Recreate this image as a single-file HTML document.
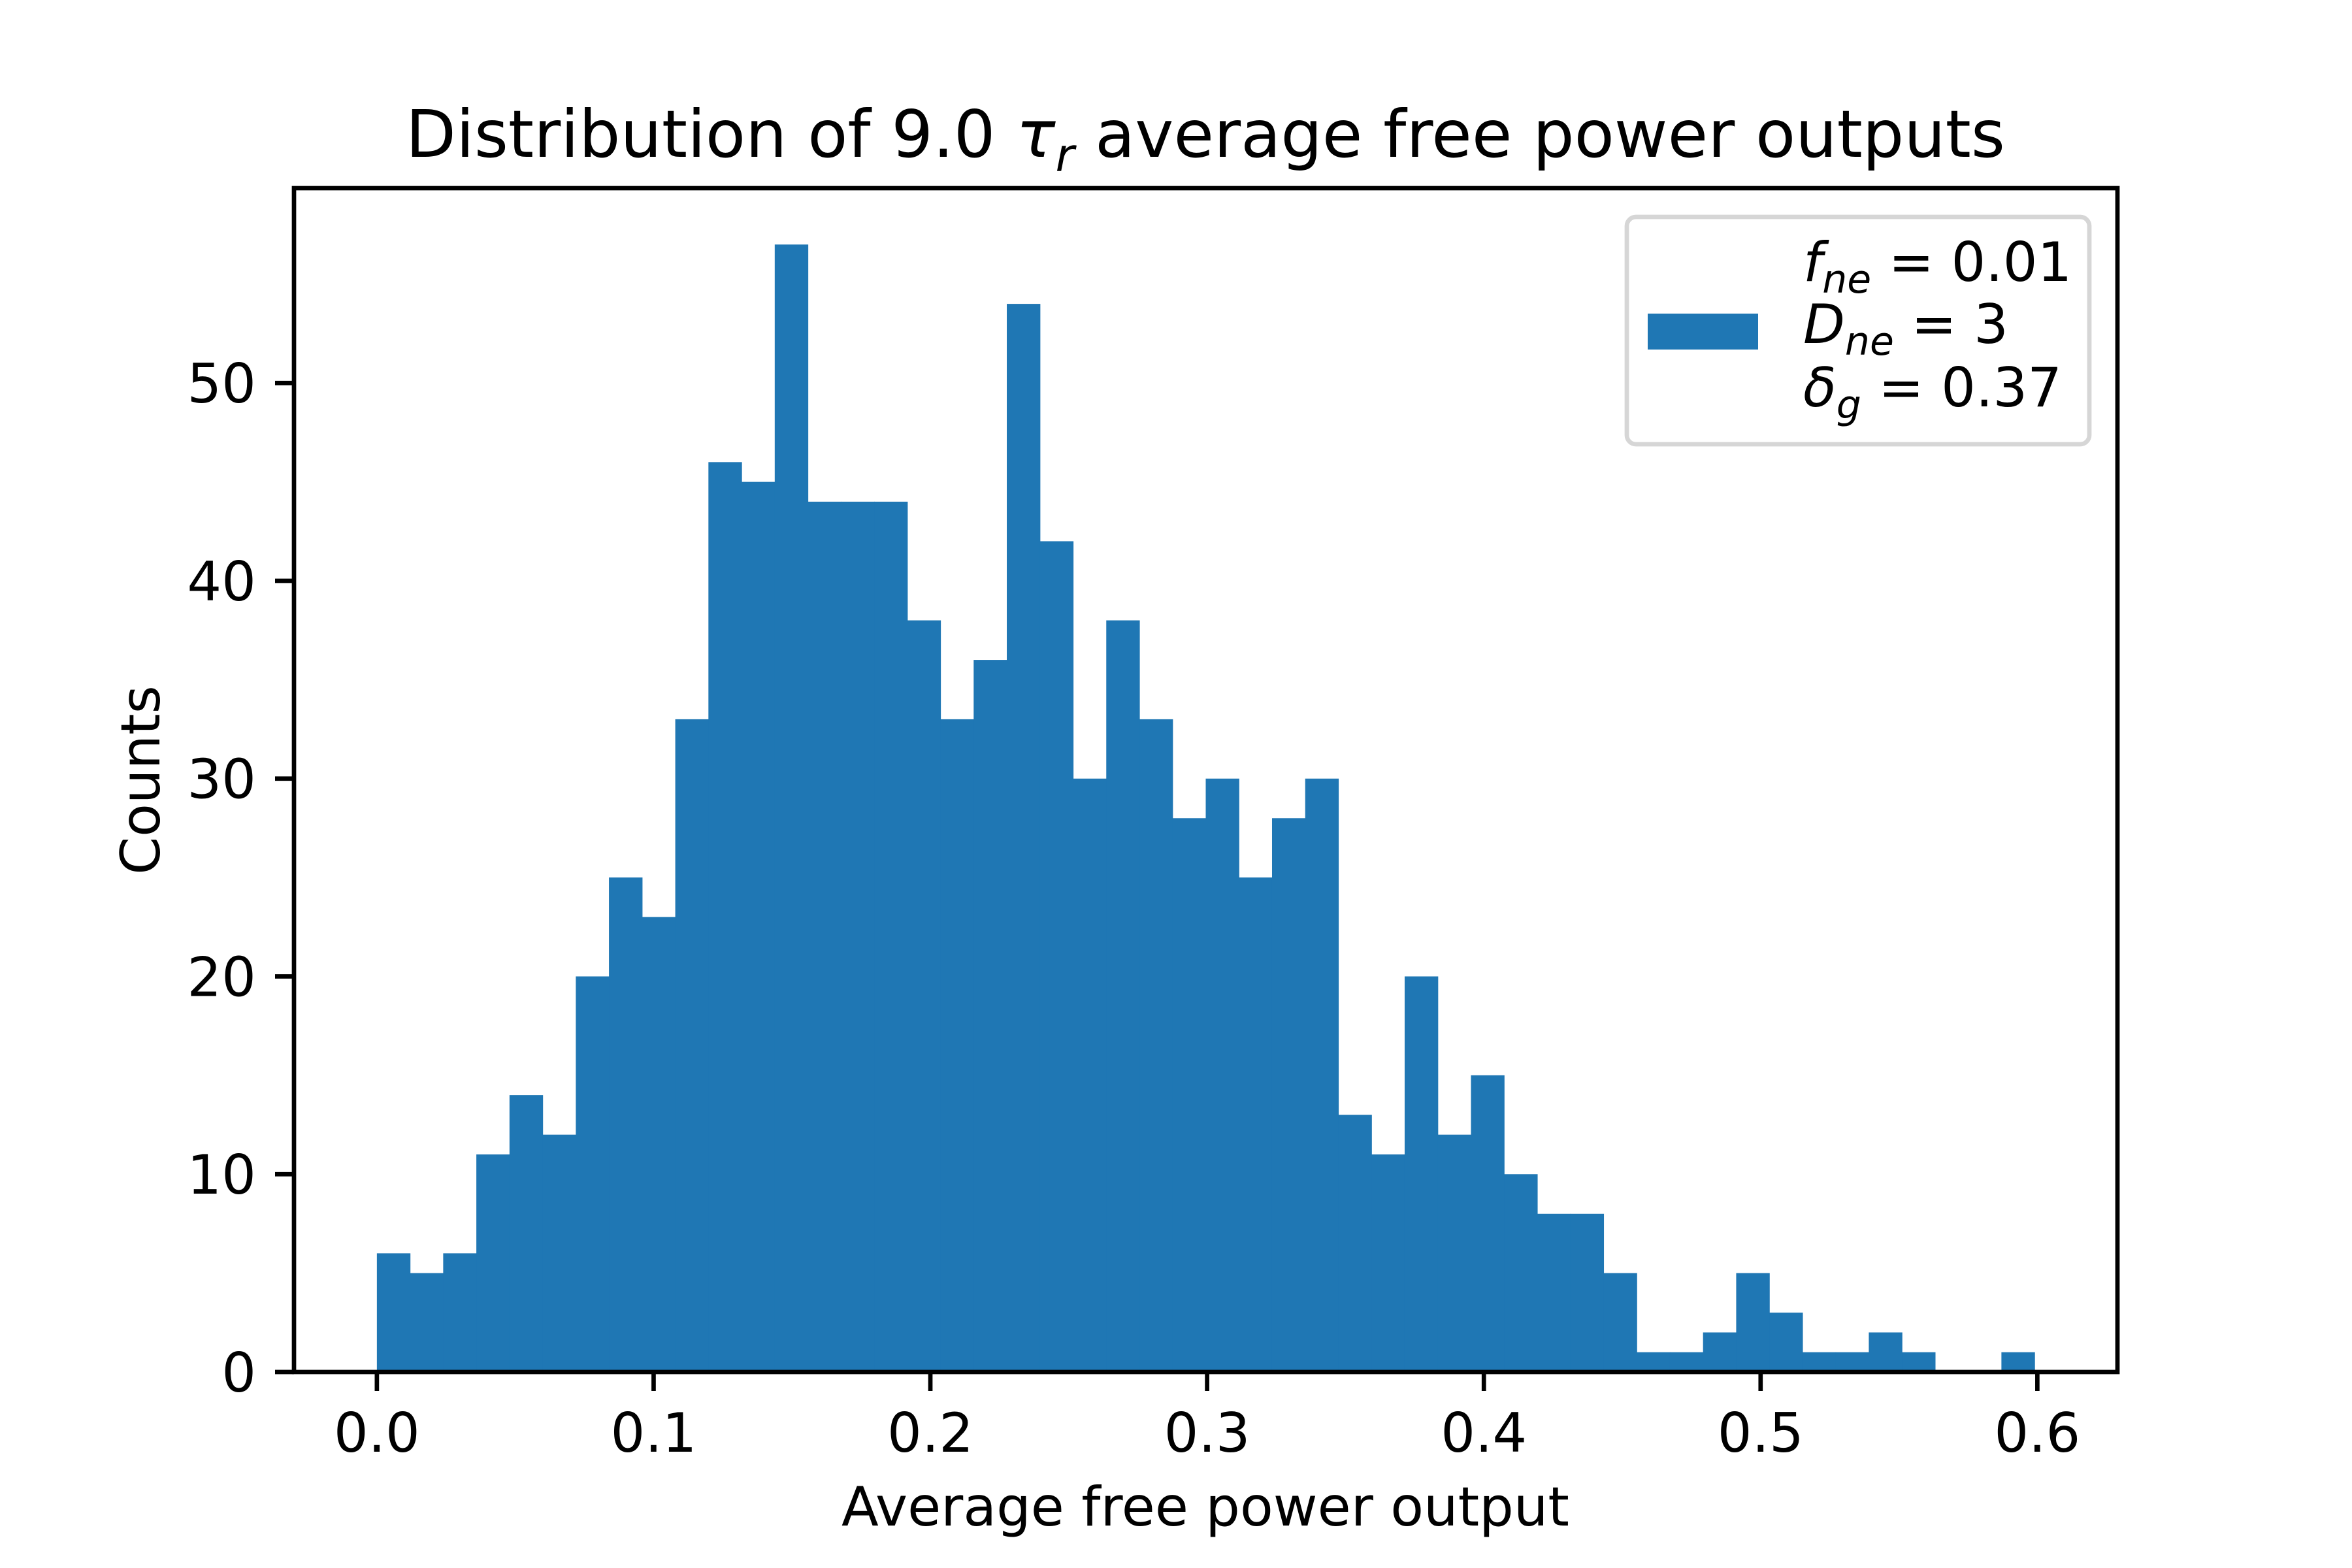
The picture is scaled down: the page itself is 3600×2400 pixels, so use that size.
<!DOCTYPE html>
<html><head><meta charset="utf-8"><style>
html,body{margin:0;padding:0;background:#fff;}
svg{display:block;font-family:"DejaVu Sans","Liberation Sans",sans-serif;}
</style></head><body>
<svg id="chart" width="3600" height="2400" viewBox="0 0 3600 2400" xmlns="http://www.w3.org/2000/svg">
<rect width="3600" height="2400" fill="#fff"/>
<g id="bars"></g>
<g id="axes"></g>
<text x="1845" y="240" font-size="100" text-anchor="middle">Distribution of 9.0 <tspan font-style="italic">τ</tspan><tspan font-style="italic" font-size="70" dy="22">r</tspan><tspan dy="-22"> average free power outputs</tspan></text>
<text x="1845" y="2335" font-size="83" text-anchor="middle">Average free power output</text>
<text x="0" y="0" font-size="83" text-anchor="middle" transform="translate(244,1194) rotate(-90)">Counts</text>
<g>
<rect x="2490" y="332" width="708" height="348" rx="14" fill="#fff" stroke="#d6d6d6" stroke-width="6.7"/>
<rect x="2522" y="480" width="169" height="55" fill="#1f77b4"/>
<text x="2760" y="430" font-size="83"><tspan font-style="italic">f</tspan><tspan font-style="italic" font-size="60" dy="18">ne</tspan><tspan dy="-18"> = 0.01</tspan></text>
<text x="2760" y="525" font-size="83"><tspan font-style="italic">D</tspan><tspan font-style="italic" font-size="60" dy="18">ne</tspan><tspan dy="-18"> = 3</tspan></text>
<text x="2760" y="622" font-size="83"><tspan font-style="italic">δ</tspan><tspan font-style="italic" font-size="60" dy="18">g</tspan><tspan dy="-18"> = 0.37</tspan></text>
</g>
</svg>
<script>
const counts = [6,5,6,11,14,12,20,25,23,33,46,45,57,44,44,44,38,33,36,54,42,30,38,33,28,30,25,28,30,13,11,20,12,15,10,8,8,5,1,1,2,5,3,1,1,2,1,0,0,1];
const binStart = 0.0;
const binEnd = 0.599;
const xTicks = [0.0,0.1,0.2,0.3,0.4,0.5,0.6];
const xTickLabels = ["0.0","0.1","0.2","0.3","0.4","0.5","0.6"];
const yTicks = [0,10,20,30,40,50];
const yTickLabels = ["0","10","20","30","40","50"];

const NS = "http://www.w3.org/2000/svg";
const L = 450, R = 3241, T = 288, B = 2100;
const span = binEnd - binStart;
const xmin = binStart - 0.05*span, xmax = binEnd + 0.05*span;
const ymax = Math.max(...counts) * 1.05;
function sx(v){ return L + (v - xmin)/(xmax - xmin)*(R - L); }
function sy(v){ return B - v/ymax*(B - T); }

const barsG = document.getElementById('bars');
const w = span / counts.length;
counts.forEach((c, i) => {
  if (c <= 0) return;
  const r = document.createElementNS(NS, 'rect');
  const x0 = sx(binStart + i*w), x1 = sx(binStart + (i+1)*w);
  r.setAttribute('x', x0);
  r.setAttribute('width', x1 - x0 + 0.6);
  r.setAttribute('y', sy(c));
  r.setAttribute('height', B - sy(c));
  r.setAttribute('fill', '#1f77b4');
  
  
  barsG.appendChild(r);
});

const ax = document.getElementById('axes');
const frame = document.createElementNS(NS, 'rect');
frame.setAttribute('x', L); frame.setAttribute('y', T);
frame.setAttribute('width', R - L); frame.setAttribute('height', B - T);
frame.setAttribute('fill', 'none'); frame.setAttribute('stroke', '#000');
frame.setAttribute('stroke-width', '6.7');


ax.appendChild(frame);

xTicks.forEach((v, i) => {
  const x = sx(v);
  const t = document.createElementNS(NS, 'line');
  t.setAttribute('x1', x); t.setAttribute('x2', x);
  t.setAttribute('y1', B); t.setAttribute('y2', B + 29);
  t.setAttribute('stroke', '#000'); t.setAttribute('stroke-width', '6.7');
  
  
  ax.appendChild(t);
  const tx = document.createElementNS(NS, 'text');
  tx.setAttribute('x', x); tx.setAttribute('y', 2222);
  tx.setAttribute('font-size', '83'); tx.setAttribute('text-anchor', 'middle');
  tx.textContent = xTickLabels[i];
  
  
  ax.appendChild(tx);
});

yTicks.forEach((v, i) => {
  const y = sy(v);
  const t = document.createElementNS(NS, 'line');
  t.setAttribute('x1', L - 29); t.setAttribute('x2', L);
  t.setAttribute('y1', y); t.setAttribute('y2', y);
  t.setAttribute('stroke', '#000'); t.setAttribute('stroke-width', '6.7');
  
  
  ax.appendChild(t);
  const tx = document.createElementNS(NS, 'text');
  tx.setAttribute('x', 392); tx.setAttribute('y', y + 30);
  tx.setAttribute('font-size', '83'); tx.setAttribute('text-anchor', 'end');
  tx.textContent = yTickLabels[i];
  
  
  ax.appendChild(tx);
});
</script>
</body></html>
